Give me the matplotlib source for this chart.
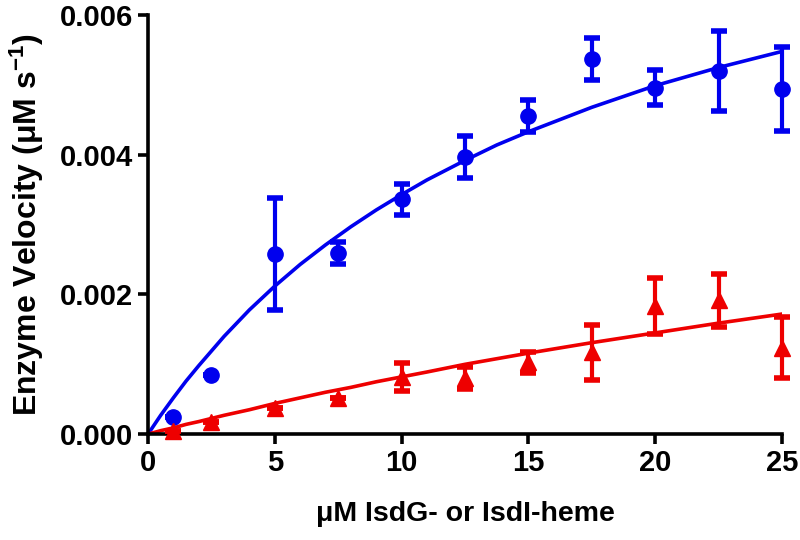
import matplotlib
matplotlib.use('Agg')
import matplotlib.pyplot as plt

matplotlib.rcParams['font.family'] = ['Liberation Sans', 'DejaVu Sans']
matplotlib.rcParams['font.weight'] = 'bold'
matplotlib.rcParams['mathtext.fontset'] = 'custom'
matplotlib.rcParams['mathtext.rm'] = 'Liberation Sans:bold'
matplotlib.rcParams['mathtext.bf'] = 'Liberation Sans:bold'
matplotlib.rcParams['mathtext.default'] = 'bf'

# IsdG (blue circles)
conc = [1, 2.5, 5, 7.5, 10, 12.5, 15, 17.5, 20, 22.5, 25]
isdg_v = [0.00025, 0.00084, 0.00258, 0.00259, 0.00336, 0.00397, 0.00455, 0.00537, 0.00496, 0.00520, 0.00494]
isdg_err = [0, 0, 0.00080, 0.00016, 0.00022, 0.00030, 0.00023, 0.00030, 0.00025, 0.00057, 0.00060]

# IsdI (red triangles)
isdi_v = [0.00004, 0.00018, 0.00038, 0.00052, 0.00082, 0.00080, 0.00103, 0.00117, 0.00184, 0.00192, 0.00124]
isdi_err = [0, 0, 0, 0, 0.00020, 0.00016, 0.00015, 0.00040, 0.00040, 0.00038, 0.00044]

# fitted curves
fit_x = [0, 0.5, 1, 1.5, 2, 3, 4, 5, 6, 7, 8, 9, 10, 11, 12.5, 13.75, 15, 17.5, 20, 22.5, 25]
isdg_fit = [0, 0.00027, 0.00052, 0.00076, 0.00098, 0.00140, 0.00178, 0.00212, 0.00243,
            0.00271, 0.00297, 0.00321, 0.00343, 0.00364, 0.00392, 0.00414, 0.00433,
            0.00468, 0.00499, 0.00525, 0.00548]
isdi_fit = [0, 0.00005, 0.00009, 0.00014, 0.00018, 0.00027, 0.00035, 0.00044, 0.00052,
            0.00060, 0.00067, 0.00075, 0.00082, 0.00089, 0.00100, 0.00108, 0.00116,
            0.00131, 0.00145, 0.00159, 0.00172]

fig = plt.figure(figsize=(8, 5.4), dpi=100)
ax = fig.add_axes([0.185, 0.196, 0.7925, 0.776])

blue = '#0000ee'
red = '#ee0000'

ax.plot(fit_x, isdg_fit, color=blue, linewidth=2.6, zorder=2)
ax.plot(fit_x, isdi_fit, color=red, linewidth=2.6, zorder=2)

ax.errorbar(conc, isdg_v, yerr=isdg_err, fmt='o', color=blue, markersize=11,
            elinewidth=3, capsize=6, capthick=4, zorder=3, clip_on=False)
ax.errorbar(conc, isdi_v, yerr=isdi_err, fmt='^', color=red, markersize=11.5,
            elinewidth=3, capsize=6, capthick=4, zorder=3, clip_on=False)

ax.set_xlim(0, 25)
ax.set_ylim(0, 0.006)
ax.set_xticks([0, 5, 10, 15, 20, 25])
ax.set_yticks([0.000, 0.002, 0.004, 0.006])
ax.set_yticklabels(['0.000', '0.002', '0.004', '0.006'])

for s in ['top', 'right']:
    ax.spines[s].set_visible(False)
for s in ['left', 'bottom']:
    ax.spines[s].set_linewidth(2.6)
ax.tick_params(width=2.6, length=7, labelsize=21, pad=4)

ax.set_xlabel('μM IsdG- or IsdI-heme', fontsize=20.5, fontweight='bold', labelpad=17)
ax.set_ylabel(r'Enzyme Velocity (μM s$^{-1}$)', fontsize=23, fontweight='bold', labelpad=10)

plt.savefig('out.png')
